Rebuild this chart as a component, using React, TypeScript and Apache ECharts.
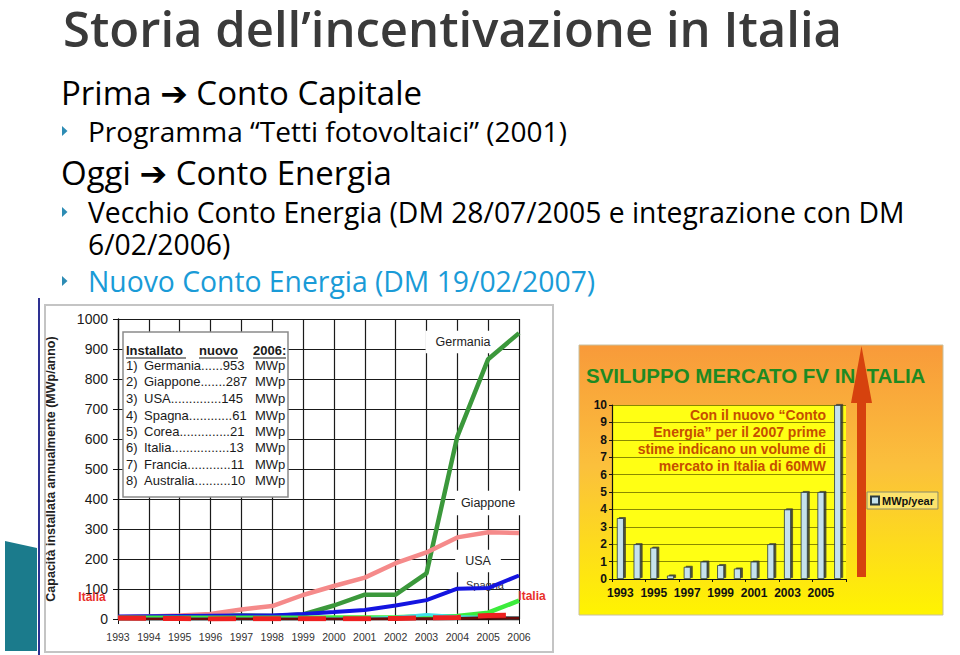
import React, { useEffect, useRef } from 'react';
import * as echarts from 'echarts';

// ---- Left chart data (annual installed PV, MWp) ----
const years = ['1993', '1994', '1995', '1996', '1997', '1998', '1999', '2000', '2001', '2002', '2003', '2004', '2005', '2006'];
const germania = [3, 4, 5, 10, 12, 10, 15, 45, 81, 81, 152, 608, 866, 953];
const giappone = [6, 8, 12, 17, 32, 43, 80, 110, 138, 186, 222, 272, 289, 287];
const usa = [8, 9, 10, 11, 12, 12, 17, 23, 30, 45, 63, 101, 103, 145];
const spagna = [4, 4, 4, 4, 4, 4, 4, 5, 5, 6, 9, 10, 21, 61];
const corea = [0, 0, 0, 0, 0, 0, 1, 1, 2, 6, 15, 8, 5, 4];
const francia = [0, 0, 0, 0, 0, 0, 0, 0, 0, 1, 1, 2, 4, 3];
const italiaLeft = [3.5, 2, 1.8, 0.2, 0.7, 1, 0.8, 0.6, 1, 2, 4, 5, 12, 13];

// ---- Ranking box ----
const rankCountries = ['Germania', 'Giappone', 'USA', 'Spagna', 'Corea', 'Italia', 'Francia', 'Australia'];
const rankValues = [953, 287, 145, 61, 21, 13, 11, 10];
const rankDots = [6, 7, 14, 12, 14, 16, 12, 10];

// ---- Right chart data (Italy, MWp/year) ----
const italiaYears = years;
const italiaValues = [3.5, 2, 1.8, 0.2, 0.7, 1, 0.8, 0.6, 1, 2, 4, 5, 5, 10];

const OS = '"Open Sans", "DejaVu Sans", sans-serif';
const AR = 'Arial, "Liberation Sans", sans-serif';

function T(x: number, y: number, text: string, font: string, fill: string, align: string = 'left', z: number = 3, extra: any = {}) {
  const m = /(\d+(?:\.\d+)?)px/.exec(font);
  const size = m ? parseFloat(m[1]) : 12;
  return {
    type: 'text',
    x,
    y,
    z,
    silent: true,
    style: {
      text,
      font,
      fill,
      lineHeight: size,
      textAlign: align,
      textVerticalAlign: 'middle',
      align,
      verticalAlign: 'middle',
      ...extra,
    },
  };
}

function bullet(y: number) {
  return {
    type: 'polygon',
    z: 3,
    silent: true,
    shape: { points: [[62, y - 5], [67.5, y], [62, y + 5]] },
    style: { fill: '#2d8cb4' },
  };
}

export default function App() {
  const ref = useRef<HTMLDivElement>(null);
  useEffect(() => {
    const chart = echarts.init(ref.current!, null, { renderer: 'svg' });

    const rowYs = [365.7, 381.7, 398, 415, 431.7, 447.7, 464, 480.7];
    const rankEls: any[] = [];
    rankCountries.forEach((c, i) => {
      const y = rowYs[i];
      rankEls.push(T(126, y, `${i + 1})`, `13px ${AR}`, '#1a1a1a', 'left', 3));
      rankEls.push(T(144, y, c + '.'.repeat(rankDots[i]) + rankValues[i], `13px ${AR}`, '#1a1a1a', 'left', 3));
      rankEls.push(T(255, y, 'MWp', `13px ${AR}`, '#1a1a1a', 'left', 3));
    });

    const shadow = { textShadowColor: 'rgba(60,30,0,0.7)', textShadowOffsetX: 1, textShadowOffsetY: 1, textShadowBlur: 0 };

    const option: any = {
      animation: false,
      backgroundColor: '#ffffff',
      legend: {
        data: ['MWp/year'],
        left: 867,
        top: 492,
        orient: 'vertical',
        icon: 'rect',
        itemWidth: 8,
        itemHeight: 8,
        itemGap: 0,
        padding: [3, 4, 3, 3],
        backgroundColor: '#fde36c',
        borderColor: '#8c8c6c',
        borderWidth: 1,
        selectedMode: false,
        textStyle: { fontFamily: AR, fontWeight: 'bold', fontSize: 11, color: '#111', padding: [0, 0, 0, -2] },
      },
      grid: [
        { left: 118, top: 319, width: 401, height: 300, show: false },
        { left: 612, top: 405, width: 234, height: 174, show: true, backgroundColor: '#ffff14', borderWidth: 0 },
      ],
      xAxis: [
        {
          type: 'category',
          gridIndex: 0,
          data: years,
          boundaryGap: false,
          axisLine: { lineStyle: { color: '#111', width: 1.3 } },
          axisTick: { show: true, length: 5, interval: 0, lineStyle: { color: '#111' } },
          splitLine: { show: true, interval: 0, lineStyle: { color: '#1a1a1a', width: 1.2 } },
          axisLabel: { interval: 0, fontFamily: AR, fontSize: 10.5, color: '#333', margin: 12 },
        },
        {
          type: 'category',
          gridIndex: 1,
          data: italiaYears,
          axisLine: { lineStyle: { color: '#111', width: 1.2 } },
          axisTick: { show: true, length: 3, lineStyle: { color: '#111' } },
          splitLine: { show: false },
          axisLabel: { interval: 1, fontFamily: '"Liberation Sans Narrow", Arial, sans-serif', fontWeight: 'bold', fontSize: 12, color: '#111', margin: 8 },
        },
      ],
      yAxis: [
        {
          type: 'value',
          gridIndex: 0,
          min: 0,
          max: 1000,
          interval: 100,
          name: 'Capacità installata annualmente (MWp/anno)',
          nameLocation: 'middle',
          nameRotate: 90,
          nameGap: 61,
          nameTextStyle: { fontFamily: AR, fontSize: 12.5, fontWeight: 'bold', color: '#222' },
          axisLine: { show: true, lineStyle: { color: '#111', width: 1.3 } },
          axisTick: { show: true, length: 5, lineStyle: { color: '#111' } },
          splitLine: { show: true, lineStyle: { color: '#1a1a1a', width: 1.2 } },
          axisLabel: { fontFamily: AR, fontSize: 14, color: '#1a1a1a', margin: 10, formatter: (v: number) => String(v) },
        },
        {
          type: 'value',
          gridIndex: 1,
          min: 0,
          max: 10,
          interval: 1,
          axisLine: { show: true, lineStyle: { color: '#111', width: 1.2 } },
          axisTick: { show: true, length: 3, lineStyle: { color: '#111' } },
          splitLine: { show: true, lineStyle: { color: '#8a8a00', width: 1 } },
          axisLabel: { fontFamily: AR, fontWeight: 'bold', fontSize: 12, color: '#111', margin: 5 },
        },
      ],
      series: [
        { name: 'Germania', type: 'line', data: germania, showSymbol: false, lineStyle: { color: '#3b983b', width: 4.5 }, z: 3 },
        { name: 'Giappone', type: 'line', data: giappone, showSymbol: false, lineStyle: { color: '#f58a8a', width: 4.5 }, z: 4 },
        { name: 'USA', type: 'line', data: usa, showSymbol: false, lineStyle: { color: '#1414e0', width: 4 }, z: 5 },
        { name: 'Spagna', type: 'line', data: spagna, showSymbol: false, lineStyle: { color: '#3cec3c', width: 4.5 }, z: 6 },
        { name: 'Corea', type: 'line', data: corea, showSymbol: false, lineStyle: { color: '#40e0e8', width: 3 }, z: 6 },
        { name: 'Francia', type: 'line', data: francia, showSymbol: false, lineStyle: { color: '#6a0a0a', width: 3 }, z: 6 },
        { name: 'Italia', type: 'line', data: italiaLeft, showSymbol: false, lineStyle: { color: '#ee2020', width: 5, type: [28, 17] }, z: 7 },
        {
          name: 'MWp/year',
          type: 'bar',
          xAxisIndex: 1,
          yAxisIndex: 1,
          data: italiaValues,
          barWidth: 7,
          itemStyle: {
            color: '#c6e2ec',
            borderColor: '#2a3a40',
            borderWidth: 0.8,
            shadowColor: 'rgba(50,50,50,0.85)',
            shadowOffsetX: 2,
            shadowOffsetY: -1,
            shadowBlur: 0,
          },
          z: 3,
        },
      ],
      graphic: [
        // slide title and text
        T(63, 28, 'Storia dell’incentivazione in Italia', `600 49px ${OS}`, '#3a3a3a', 'left', 3),
        T(61, 92, 'Prima ➔ Conto Capitale', `33px ${OS}`, '#000', 'left', 3),
        bullet(131),
        T(88, 131, 'Programma “Tetti fotovoltaici” (2001)', `28px ${OS}`, '#000', 'left', 3),
        T(61, 172, 'Oggi ➔ Conto Energia', `33px ${OS}`, '#000', 'left', 3),
        bullet(212),
        T(88, 212, 'Vecchio Conto Energia (DM 28/07/2005 e integrazione con DM', `28.3px ${OS}`, '#000', 'left', 3),
        T(88, 244, '6/02/2006)', `28.3px ${OS}`, '#000', 'left', 3),
        bullet(281),
        T(88, 281, 'Nuovo Conto Energia (DM 19/02/2007)', `28.3px ${OS}`, '#1a9bd7', 'left', 3),

        // left decorations
        { type: 'line', z: 3, silent: true, shape: { x1: 39, y1: 298, x2: 39, y2: 655 }, style: { stroke: '#2e3192', lineWidth: 2 } },
        { type: 'polygon', z: 3, silent: true, shape: { points: [[5, 541], [37, 548], [37, 651], [5, 651]] }, style: { fill: '#1b7b8c' } },
        { type: 'rect', z: 0, silent: true, shape: { x: 45, y: 305, width: 508, height: 347 }, style: { fill: 'none', stroke: '#c4c4c4', lineWidth: 2 } },

        // ranking box
        { type: 'rect', z: 1, silent: true, shape: { x: 123, y: 332, width: 165, height: 165 }, style: { fill: '#fff', stroke: '#8a8a8a', lineWidth: 1.5 } },
        T(126, 350, 'Installato', `bold 13px ${AR}`, '#1a1a1a', 'left', 3),
        T(199, 350, 'nuovo', `bold 13px ${AR}`, '#1a1a1a', 'left', 3),
        T(253, 350, '2006:', `bold 13px ${AR}`, '#1a1a1a', 'left', 3),
        { type: 'line', z: 3, silent: true, shape: { x1: 126, y1: 358, x2: 186, y2: 358 }, style: { stroke: '#1a1a1a', lineWidth: 1.2 } },
        { type: 'line', z: 3, silent: true, shape: { x1: 199, y1: 358, x2: 238, y2: 358 }, style: { stroke: '#1a1a1a', lineWidth: 1.2 } },
        { type: 'line', z: 3, silent: true, shape: { x1: 253, y1: 358, x2: 286, y2: 358 }, style: { stroke: '#1a1a1a', lineWidth: 1.2 } },
        ...rankEls,

        // series labels on the left chart
        T(463, 342, 'Germania', `12.5px ${AR}`, '#222', 'center', 1, { backgroundColor: '#fff', padding: [5, 10] }),
        T(488, 503, 'Giappone', `12.5px ${AR}`, '#222', 'center', 1, { backgroundColor: '#fff', padding: [6, 6] }),
        T(478, 561, 'USA', `12.5px ${AR}`, '#222', 'center', 1, { backgroundColor: '#fff', padding: [5, 10] }),
        T(485, 585, 'Spagna', `11px ${AR}`, '#333', 'center', 1),
        T(92, 597, 'Italia', `bold 12px ${AR}`, '#e8302a', 'center', 8),
        T(532, 596, 'Italia', `bold 12px ${AR}`, '#e8302a', 'center', 8),

        // right panel background
        {
          type: 'rect',
          z: -10,
          silent: true,
          shape: { x: 579, y: 345, width: 364, height: 270 },
          style: {
            fill: new echarts.graphic.LinearGradient(0, 0, 0, 1, [
              { offset: 0, color: '#f89a3a' },
              { offset: 0.45, color: '#fbc03c' },
              { offset: 1, color: '#fff400' },
            ]),
            stroke: '#c8c0a0',
            lineWidth: 1,
          },
        },
        T(586, 375, 'SVILUPPO MERCATO FV IN ITALIA', `bold 20.5px ${AR}`, '#1e8a22', 'left', 5),
        {
          type: 'polygon',
          z: 6,
          silent: true,
          shape: { points: [[857, 577], [857, 403], [851, 403], [861.5, 346], [872, 403], [866, 403], [866, 577]] },
          style: { fill: '#d6420e' },
        },
        T(826, 415, 'Con il nuovo “Conto', `bold 14px ${AR}`, '#c64e00', 'right', 6, shadow),
        T(826, 432, 'Energia” per il 2007 prime', `bold 14px ${AR}`, '#c64e00', 'right', 6, shadow),
        T(826, 449, 'stime indicano un volume di', `bold 14px ${AR}`, '#c64e00', 'right', 6, shadow),
        T(826, 466, 'mercato in Italia di 60MW', `bold 14px ${AR}`, '#c64e00', 'right', 6, shadow),
      ],
    };

    chart.setOption(option);
    return () => chart.dispose();
  }, []);

  return (
    <div
      ref={ref}
      style={{ position: 'fixed', left: 0, top: 0, width: 960, height: 655, background: '#fff' }}
    />
  );
}
